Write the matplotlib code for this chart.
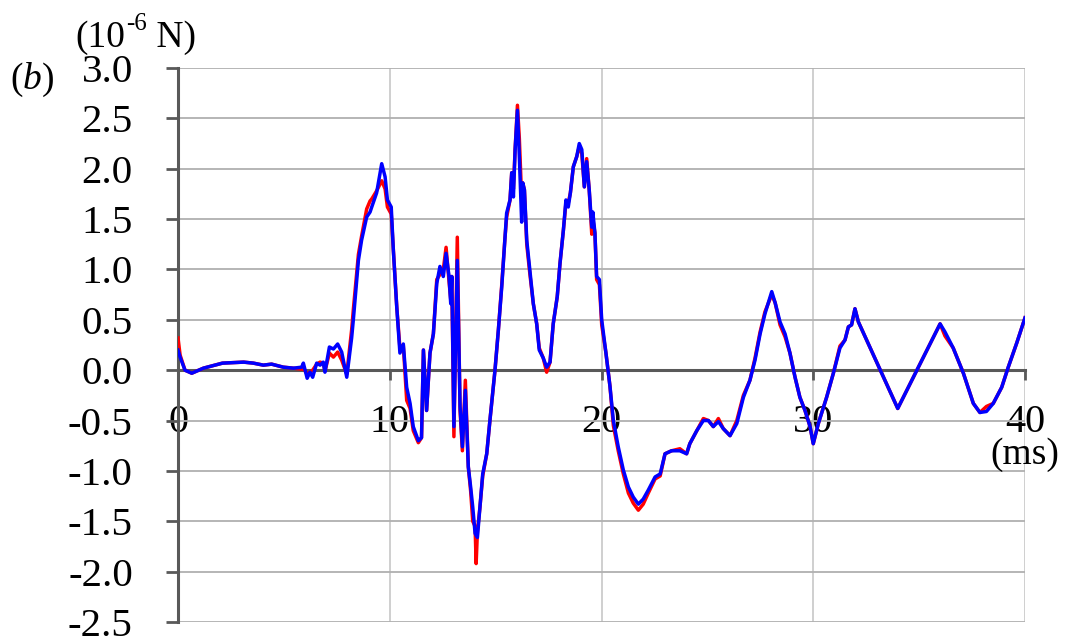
import numpy as np
import matplotlib
matplotlib.use('Agg')
import matplotlib.pyplot as plt
from matplotlib.ticker import FormatStrFormatter

plt.rcParams['font.family'] = ['Liberation Serif', 'DejaVu Serif']
plt.rcParams['mathtext.fontset'] = 'custom'
plt.rcParams['mathtext.rm'] = 'Liberation Serif'
plt.rcParams['mathtext.it'] = 'Liberation Serif:italic'
plt.rcParams['axes.unicode_minus'] = False

# time (ms) and force (10^-6 N)
t_ms = [0.00, 0.10, 0.33, 0.65, 1.20, 2.10, 3.10, 3.56, 4.03, 4.42, 4.97, 5.45,
        5.84, 5.92, 6.10, 6.23, 6.36, 6.55, 6.71, 6.86, 6.94, 7.15, 7.34, 7.54,
        7.73, 7.97, 8.20, 8.28, 8.52, 8.67, 8.91, 9.07, 9.15, 9.38, 9.62, 9.78,
        9.89, 10.07, 10.17, 10.33, 10.48, 10.64, 10.80, 10.96, 11.11, 11.35, 11.50,
        11.59, 11.74, 11.90, 12.06, 12.22, 12.37, 12.53, 12.66, 12.80, 12.88, 12.93,
        13.03, 13.19, 13.32, 13.43, 13.57, 13.71, 13.82, 13.92, 14.03, 14.08, 14.14,
        14.26, 14.39, 14.58, 14.73, 14.97, 15.13, 15.29, 15.44, 15.52, 15.68, 15.76,
        15.84, 15.92, 16.03, 16.12, 16.23, 16.28, 16.36, 16.47, 16.62, 16.78, 16.94,
        17.06, 17.25, 17.41, 17.57, 17.72, 17.91, 18.04, 18.20, 18.32, 18.43, 18.53,
        18.67, 18.83, 18.95, 19.07, 19.19, 19.30, 19.42, 19.54, 19.59, 19.69, 19.77,
        19.90, 20.01, 20.21, 20.40, 20.56, 20.79, 21.03, 21.27, 21.50, 21.74, 21.97,
        22.21, 22.53, 22.77, 23.00, 23.31, 23.70, 24.02, 24.17, 24.50, 24.81, 25.05,
        25.28, 25.52, 25.75, 26.07, 26.39, 26.70, 27.01, 27.25, 27.49, 27.72, 28.04,
        28.20, 28.43, 28.67, 28.90, 29.14, 29.37, 29.61, 29.85, 30.00, 30.24, 30.63,
        30.95, 31.26, 31.50, 31.66, 31.81, 31.97, 32.13, 33.99, 35.99, 36.22, 36.61,
        37.09, 37.56, 37.87, 38.18, 38.50, 38.90, 39.21, 39.61, 40.00]

blue = [0.20, 0.13, 0.00, -0.03, 0.02, 0.07, 0.08, 0.07, 0.05, 0.06, 0.03, 0.02,
        0.03, 0.07, -0.08, -0.02, -0.07, 0.07, 0.05, 0.08, -0.02, 0.23, 0.21, 0.26,
        0.18, -0.07, 0.32, 0.50, 1.09, 1.29, 1.52, 1.57, 1.62, 1.76, 2.05, 1.92,
        1.69, 1.62, 1.19, 0.63, 0.17, 0.26, -0.17, -0.33, -0.56, -0.70, -0.67,
        0.20, -0.40, 0.17, 0.36, 0.86, 1.03, 0.93, 1.16, 0.93, 0.66, 0.93,
        -0.56, 1.09, -0.36, -0.76, -0.20, -0.96, -1.16, -1.36, -1.62, -1.64, -1.66,
        -1.36, -1.03, -0.83, -0.50, 0.00, 0.40, 0.83, 1.31, 1.56, 1.69, 1.96,
        1.72, 2.19, 2.58, 2.12, 1.47, 1.86, 1.79, 1.29, 0.99, 0.66, 0.46,
        0.20, 0.12, 0.03, 0.08, 0.46, 0.73, 1.06, 1.39, 1.69, 1.62, 1.76,
        2.02, 2.12, 2.25, 2.19, 1.82, 2.07, 1.79, 1.42, 1.57, 1.36, 0.93,
        0.90, 0.50, 0.17, -0.16, -0.50, -0.76, -0.99, -1.16, -1.26, -1.33, -1.28,
        -1.19, -1.06, -1.03, -0.83, -0.80, -0.80, -0.83, -0.73, -0.60, -0.50, -0.50,
        -0.56, -0.51, -0.58, -0.65, -0.53, -0.27, -0.10, 0.10, 0.36, 0.56, 0.78,
        0.67, 0.48, 0.36, 0.17, -0.07, -0.27, -0.40, -0.56, -0.73, -0.53, -0.27,
        -0.03, 0.22, 0.30, 0.43, 0.45, 0.61, 0.48, -0.38, 0.46, 0.38, 0.22,
        -0.03, -0.33, -0.42, -0.41, -0.33, -0.17, 0.03, 0.27, 0.52]

red = [0.32, 0.15, 0.00, -0.03, 0.02, 0.07, 0.08, 0.07, 0.05, 0.06, 0.03, 0.02,
       0.01, 0.02, -0.04, -0.02, 0.00, 0.06, 0.08, 0.07, -0.01, 0.17, 0.13, 0.18,
       0.10, -0.04, 0.40, 0.60, 1.15, 1.33, 1.60, 1.68, 1.70, 1.78, 1.88, 1.80,
       1.62, 1.55, 1.19, 0.63, 0.22, 0.25, -0.30, -0.38, -0.60, -0.72, -0.67,
       0.20, -0.40, 0.17, 0.36, 0.90, 0.95, 1.00, 1.22, 0.88, 0.70, 0.93,
       -0.66, 1.32, -0.40, -0.80, -0.10, -0.96, -1.20, -1.50, -1.55, -1.92, -1.60,
       -1.36, -1.05, -0.83, -0.50, 0.00, 0.40, 0.85, 1.31, 1.52, 1.69, 1.96,
       1.80, 2.19, 2.63, 2.30, 1.70, 1.86, 1.79, 1.25, 0.95, 0.66, 0.46,
       0.22, 0.12, -0.02, 0.08, 0.46, 0.73, 1.06, 1.39, 1.66, 1.66, 1.76,
       2.02, 2.12, 2.22, 2.15, 1.82, 2.10, 1.79, 1.35, 1.50, 1.36, 0.90,
       0.85, 0.45, 0.17, -0.16, -0.55, -0.80, -1.03, -1.22, -1.32, -1.39, -1.33,
       -1.22, -1.08, -1.05, -0.83, -0.80, -0.78, -0.83, -0.73, -0.60, -0.48, -0.50,
       -0.56, -0.48, -0.58, -0.65, -0.50, -0.25, -0.10, 0.12, 0.38, 0.58, 0.75,
       0.67, 0.45, 0.33, 0.17, -0.07, -0.27, -0.40, -0.56, -0.73, -0.53, -0.27,
       -0.03, 0.24, 0.30, 0.43, 0.45, 0.61, 0.48, -0.38, 0.46, 0.34, 0.22,
       -0.03, -0.33, -0.42, -0.36, -0.33, -0.17, 0.03, 0.27, 0.52]

x_ticks = [0, 10, 20, 30, 40]
y_ticks = np.arange(-2.5, 3.01, 0.5)

W, H = 1069, 641
fig = plt.figure(figsize=(W / 100, H / 100), dpi=100)
ax = fig.add_axes([178 / W, 1 - 622 / H, (1025 - 178) / W, (622 - 68) / H])

ax.plot(t_ms, red, color='#ff0000', lw=2.5, zorder=3)
ax.plot(t_ms, blue, color='#0000ff', lw=2.5, zorder=4)

ax.set_xlim(0, 40)
ax.set_ylim(-2.5, 3.0)
ax.set_xticks(x_ticks)
ax.set_yticks(y_ticks)
ax.yaxis.set_major_formatter(FormatStrFormatter('%.1f'))

ax.set_axisbelow(True)
ax.yaxis.grid(True, color='#b0b0b0', lw=1.3)
ax.xaxis.grid(True, color='#cccccc', lw=1.3)

for s in ['top', 'right']:
    ax.spines[s].set_visible(False)
ax.spines['bottom'].set_position(('data', 0))
for s in ['left', 'bottom']:
    ax.spines[s].set_color('#595959')
    ax.spines[s].set_linewidth(2.2)
    ax.spines[s].set_zorder(2)

ax.tick_params(axis='x', direction='out', length=7, width=2, color='#595959',
               labelsize=29, pad=17)
ax.tick_params(axis='y', direction='out', length=8.5, width=2, color='#595959',
               labelsize=29.5, pad=24)

# unit label with a plain hyphen in the exponent
r = fig.canvas.get_renderer()
t1 = fig.text(75 / W, 1 - 47 / H, '(10', ha='left', va='baseline', fontsize=27)
x1 = t1.get_window_extent(r).x1 / W
t2 = fig.text(x1 + 1 / W, 1 - 30 / H, '-6', ha='left', va='baseline', fontsize=18)
x2 = t2.get_window_extent(r).x1 / W
fig.text(x2, 1 - 47 / H, ' N)', ha='left', va='baseline', fontsize=27)

fig.text(32 / W, 1 - 80 / H, '($\\mathit{b}$)', ha='center', va='center', fontsize=27)
fig.text(1025 / W, 1 - 455 / H, '(ms)', ha='center', va='center', fontsize=27)

fig.savefig('out.png', dpi=100)
